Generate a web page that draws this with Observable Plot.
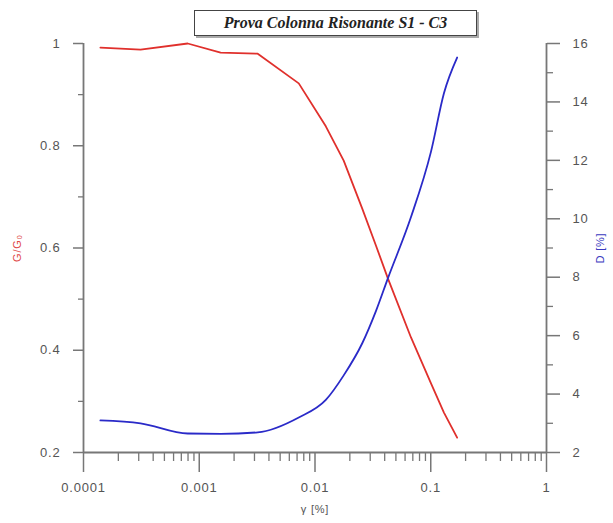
<!DOCTYPE html>
<html><head><meta charset="utf-8">
<script src="https://cdn.jsdelivr.net/npm/d3@7"></script>
<script src="https://cdn.jsdelivr.net/npm/@observablehq/plot@0.6"></script>
<style>
body{margin:0;background:#fff;}
#wrap{position:relative;width:613px;height:523px;}
#title{position:absolute;left:194px;top:10px;width:281px;height:24px;border:1px solid #444;box-shadow:2px 2px 0 #aaa;
 font:bold italic 16px "Liberation Serif","Times New Roman",serif;text-align:center;line-height:24px;color:#222;background:#fff;z-index:2;}
</style></head><body>
<div id="wrap"><div id="title"></div></div>
<script>
// data
const strain  = [1.40e-4, 3.11e-4, 7.95e-4, 1.53e-3, 3.20e-3, 7.24e-3, 1.24e-2, 1.77e-2, 2.56e-2, 3.36e-2, 4.27e-2, 6.75e-2, 1.005e-1, 1.30e-1, 1.69e-1];
const ratio   = [0.992, 0.988, 1.000, 0.982, 0.980, 0.922, 0.838, 0.771, 0.677, 0.605, 0.540, 0.425, 0.335, 0.278, 0.229];
const damping = [3.10, 3.00, 2.65, 2.64, 2.69, 3.20, 3.80, 4.64, 5.74, 6.84, 7.97, 10.06, 12.3, 14.3, 15.52];

const xTicks = [0.0001, 0.001, 0.01, 0.1, 1];
const xTickLabels = ["0.0001", "0.001", "0.01", "0.1", "1"];
const leftTicks = [0.2, 0.4, 0.6, 0.8, 1];
const leftMinor = [0.3, 0.5, 0.7, 0.9];
const rightTicks = [2, 4, 6, 8, 10, 12, 14, 16];
const rightMinor = [3, 5, 7, 9, 11, 13, 15];
const xLabel = "γ [%]";
const leftLabel = "G/G₀";
const rightLabel = "D [%]";
const titleText = "Prova Colonna Risonante S1 - C3";

const gDom = [0.2, 1], dDom = [2, 16];
const toLeft = d => gDom[0] + (d - dDom[0]) / (dDom[1] - dDom[0]) * (gDom[1] - gDom[0]);
const fromLeft = v => dDom[0] + (v - gDom[0]) / (gDom[1] - gDom[0]) * (dDom[1] - dDom[0]);
const xMinor = xTicks.slice(0, -1).flatMap(t => [2,3,4,5,6,7,8,9].map(k => +(k * t).toPrecision(3)));

const data = strain.map((s, i) => ({strain: s, ratio: ratio[i], damping: damping[i]}));
document.getElementById("title").textContent = titleText;

const axisColor = "#777";
const chart = Plot.plot({
  width: 613, height: 523,
  marginLeft: 83, marginRight: 67, marginTop: 43, marginBottom: 71,
  x: {type: "log", domain: [1e-4, 1]},
  y: {domain: gDom},
  style: {fontFamily: "'Liberation Sans', Arial, sans-serif", fontSize: "13px", color: "#555", background: "white", letterSpacing: "0.8px"},
  marks: [
    Plot.axisX(xMinor, {tickSize: 9, tickFormat: () => "", label: null, stroke: axisColor, strokeWidth: 1.3}),
    Plot.axisX(xTicks, {tickSize: 20, tickPadding: 10, tickFormat: d => xTickLabels[xTicks.indexOf(d)], label: null, stroke: axisColor, strokeWidth: 1.5, fill: "#555"}),
    Plot.axisY(leftMinor, {tickSize: 5, tickFormat: () => "", label: null, stroke: axisColor, strokeWidth: 1.3}),
    Plot.axisY(leftTicks, {tickSize: 10, tickPadding: 13, tickFormat: d => String(d), label: null, stroke: axisColor, strokeWidth: 1.5, fill: "#555"}),
    Plot.axisY(rightMinor.map(toLeft), {anchor: "right", tickSize: 6, tickFormat: () => "", label: null, stroke: axisColor, strokeWidth: 1.3}),
    Plot.axisY(rightTicks.map(toLeft), {anchor: "right", tickSize: 13, tickPadding: 13, tickFormat: v => String(Math.round(fromLeft(v))), label: null, stroke: axisColor, strokeWidth: 1.5, fill: "#555"}),
    Plot.ruleX([1e-4, 1], {stroke: axisColor, strokeWidth: 1.8}),
    Plot.ruleY([gDom[0]], {stroke: axisColor, strokeWidth: 1.8}),
    Plot.line(data, {x: "strain", y: "ratio", stroke: "#e0302c", strokeWidth: 1.8}),
    Plot.line(data, {x: "strain", y: d => toLeft(d.damping), stroke: "#2a2ac8", strokeWidth: 1.8, curve: "monotone-x"}),
    Plot.text([xLabel], {frameAnchor: "bottom", textAnchor: "middle", dy: 60, fill: "#555", fontSize: 11}),
    Plot.text([leftLabel], {frameAnchor: "left", textAnchor: "middle", dx: -66, rotate: -90, fill: "#e04848", fontSize: 11}),
    Plot.text([rightLabel], {frameAnchor: "right", textAnchor: "middle", dx: 54, rotate: -90, fill: "#3a3ac0", fontSize: 11})
  ]
});
document.getElementById("wrap").appendChild(chart);
</script>
</body></html>
